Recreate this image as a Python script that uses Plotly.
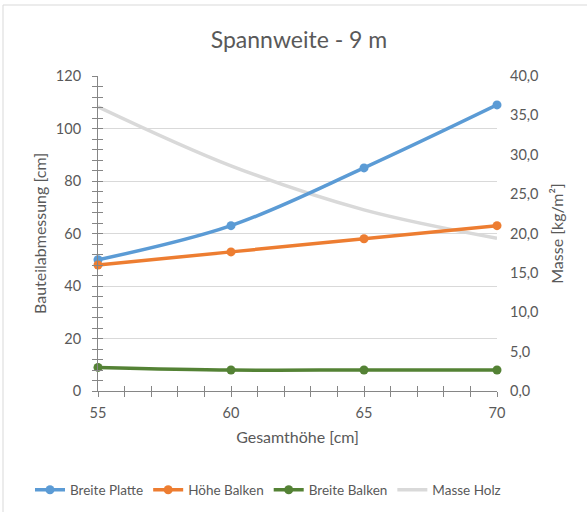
import plotly.graph_objects as go

# Gesamthöhe of the cross-section [cm]
gesamthoehe = [55, 60, 65, 70]

# Component dimensions [cm]
breite_platte = [50, 63, 85, 109]
hoehe_balken = [48, 53, 58, 63]
breite_balken = [9, 8, 8, 8]

# Timber mass [kg/m²]
masse_holz = [36.1, 28.6, 23.0, 19.4]

BLUE = "#5B9BD5"
ORANGE = "#ED7D31"
GREEN = "#548235"
LIGHT = "#D9D9D9"
TEXT = "#595959"
AXIS = "#868686"
FONT = "Lato"

fig = go.Figure()

# Mass line on the base (right-hand) axis so it sits beneath the other series
fig.add_trace(go.Scatter(
    x=gesamthoehe, y=masse_holz, name="Masse Holz",
    mode="lines", line=dict(color=LIGHT, width=3.5, shape="spline"),
    xaxis="x", yaxis="y", cliponaxis=False, legendrank=4,
))

for rank, (name, vals, col) in enumerate([
    ("Breite Platte", breite_platte, BLUE),
    ("Höhe Balken", hoehe_balken, ORANGE),
    ("Breite Balken", breite_balken, GREEN),
], start=1):
    fig.add_trace(go.Scatter(
        x=gesamthoehe, y=vals, name=name,
        mode="lines+markers",
        line=dict(color=col, width=3.5, shape="spline"),
        marker=dict(color=col, size=9),
        xaxis="x", yaxis="y2", cliponaxis=False, legendrank=rank,
    ))

# Invisible helper trace carrying the inner half of the crossing tick marks
fig.add_trace(go.Scatter(
    x=gesamthoehe, y=breite_platte, mode="lines", line=dict(width=0),
    opacity=0, showlegend=False, hoverinfo="skip",
    xaxis="x2", yaxis="y3",
))

tickfont = dict(family=FONT, size=14.5, color=TEXT)
titlefont = dict(family=FONT, size=16, color=TEXT)

fig.update_layout(
    width=587, height=512,
    margin=dict(l=98, r=90, t=76, b=121, autoexpand=False),
    paper_bgcolor="white", plot_bgcolor="white",
    separators=",.",
    title=dict(text="Spannweite - 9 m", x=299 / 587, xanchor="center",
               y=1 - 40 / 512, yanchor="middle",
               font=dict(family=FONT, size=23, color=TEXT)),
    xaxis=dict(
        range=[55, 70], dtick=5, tick0=55,
        showline=True, linecolor=AXIS, linewidth=1,
        ticks="outside", ticklen=5, tickcolor=AXIS,
        minor=dict(dtick=1, ticks="outside", ticklen=5, tickcolor=AXIS),
        showgrid=False, zeroline=False, tickfont=tickfont,
        ticklabelstandoff=4,
        title=dict(text="Gesamthöhe [cm]", font=titlefont, standoff=11),
    ),
    xaxis2=dict(
        range=[55, 70], dtick=5, tick0=55, overlaying="x", anchor="y3",
        ticks="inside", ticklen=5, tickcolor=AXIS,
        minor=dict(dtick=1, ticks="inside", ticklen=5, tickcolor=AXIS),
        showticklabels=False, showgrid=False, zeroline=False, showline=False,
    ),
    yaxis=dict(
        range=[0, 40], dtick=5, side="right", tickformat=".1f",
        showline=False, ticks="", showgrid=False, zeroline=False,
        tickfont=tickfont, ticklabelstandoff=12,
        title=dict(text="Masse [kg/m²]", font=titlefont, standoff=14),
    ),
    yaxis2=dict(
        range=[0, 120], dtick=20, side="left", overlaying="y",
        showline=True, linecolor=AXIS, linewidth=1,
        ticks="outside", ticklen=5, tickcolor=AXIS,
        minor=dict(dtick=4, ticks="outside", ticklen=5, tickcolor=AXIS),
        showgrid=True, gridcolor=LIGHT, gridwidth=1, zeroline=False,
        tickfont=tickfont, ticklabelstandoff=8,
        title=dict(text="Bauteilabmessung [cm]", font=titlefont, standoff=5),
    ),
    yaxis3=dict(
        range=[0, 120], dtick=20, side="left", overlaying="y",
        ticks="inside", ticklen=5, tickcolor=AXIS,
        minor=dict(dtick=4, ticks="inside", ticklen=5, tickcolor=AXIS),
        showticklabels=False, showgrid=False, zeroline=False, showline=False,
    ),
    legend=dict(orientation="h",
                x=(30 - 98) / 399, xanchor="left",
                y=(391 - 490) / 315, yanchor="middle",
                font=dict(family=FONT, size=13.5, color=TEXT),
                itemwidth=30, traceorder="normal"),
    showlegend=True,
)

# Outer chart frame
fig.add_shape(type="rect", xref="paper", yref="paper",
              x0=(3 - 98) / 399, x1=(600 - 98) / 399,
              y0=(391 - 530) / 315, y1=(391 - 5) / 315,
              line=dict(color=LIGHT, width=1), fillcolor="rgba(0,0,0,0)",
              layer="below")

fig.write_html("out.html")
